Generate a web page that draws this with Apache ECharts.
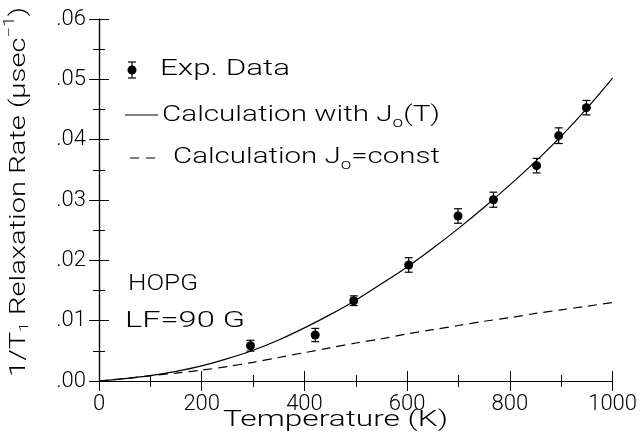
<!DOCTYPE html>
<html><head><meta charset="utf-8">
<script src="https://cdn.jsdelivr.net/npm/echarts@6/dist/echarts.min.js"></script>
<style>html,body{margin:0;padding:0;background:#fff}#c{width:640px;height:438px}</style>
</head><body><div id="c"></div><script>
// ---- data ----
const expTemps  = [295, 421, 496, 603, 699, 768, 852, 895, 949];
const expRates  = [0.00585, 0.00762, 0.01331, 0.01923, 0.02735, 0.03005, 0.03569, 0.04066, 0.0453];
const expErrors = [0.0009, 0.0011, 0.0008, 0.0012, 0.0012, 0.00125, 0.0012, 0.0013, 0.0012];
const calcTemps = [0,50,100,150,200,250,300,350,400,450,500,550,600,650,700,750,800,850,900,950,1000];
const calcJT    = [0,0.0004,0.0009,0.0016,0.0025,0.0037,0.0051,0.0068,0.0088,0.0110,0.0134,0.0161,0.0189,0.0220,0.0253,0.0288,0.0325,0.0364,0.0406,0.0452,0.0502];
const calcJconst= [0,0.0004,0.0009,0.0013,0.0018,0.0024,0.0031,0.0039,0.0047,0.0055,0.0063,0.0070,0.0078,0.0085,0.0092,0.0099,0.0105,0.0112,0.0118,0.0124,0.0130];
const xTickLabels = ['0','200','400','600','800','1000'];
const yTickLabels = ['.00','.01','.02','.03','.04','.05','.06'];

const FONT = 'Roboto, "Liberation Sans", sans-serif';
const WEIGHT = 300;
const ctx = document.createElement('canvas').getContext('2d');
function measure(t, size){ ctx.font = WEIGHT + ' ' + size + 'px ' + FONT; return ctx.measureText(t).width; }
function textGroup(parts, x, y, width, rotation){
  let acc = 0; const children = [];
  parts.forEach(p => {
    const size = p.size || 22;
    children.push({type:'text', x: acc, y: p.dy || 0,
      style:{text:p.t, font: WEIGHT + ' ' + size + 'px ' + FONT, fill:'#000', textAlign:'left', textVerticalAlign:'middle'}});
    acc += measure(p.t, size);
  });
  return {type:'group', x:x, y:y, rotation: rotation || 0, scaleX: width / acc, children: children};
}

const chart = echarts.init(document.getElementById('c'), null, {renderer:'canvas'});
const axisCommon = {
  type:'value', splitLine:{show:false},
  axisLine:{show:true, lineStyle:{color:'#000', width:1.2}},
  axisTick:{show:true, inside:true, length:10, lineStyle:{color:'#000', width:1}},
  minorTick:{show:true, splitNumber:2, length:6, lineStyle:{color:'#000', width:1}},
};
const lbl = {color:'#000', fontSize:22, fontFamily:FONT, fontWeight:WEIGHT};
chart.setOption({
  animation:false,
  grid:{left:99, right:25, top:19, bottom:57},
  xAxis:[
    Object.assign({}, axisCommon, {min:0, max:1000, interval:200, position:'bottom',
      axisLabel:Object.assign({margin:12, formatter:(v)=>xTickLabels[Math.round(v/200)]}, lbl)}),
    Object.assign({}, axisCommon, {min:0, max:1000, interval:200, position:'top', axisLabel:{show:false}})
  ],
  yAxis:[
    Object.assign({}, axisCommon, {min:0, max:0.06, interval:0.01, position:'left',
      axisLabel:Object.assign({margin:13, formatter:(v)=>yTickLabels[Math.round(v/0.01)]}, lbl)}),
    Object.assign({}, axisCommon, {min:0, max:0.06, interval:0.01, position:'right', axisLabel:{show:false}})
  ],
  series:[
    {type:'line', data: calcTemps.map((t,i)=>[t, calcJT[i]]), smooth:0.3, showSymbol:false,
      lineStyle:{color:'#000', width:1.2}, z:2},
    {type:'line', data: calcTemps.map((t,i)=>[t, calcJconst[i]]), smooth:0.3, showSymbol:false,
      lineStyle:{color:'#000', width:1.2, type:[9,6]}, z:2},
    {type:'custom', data: expTemps.map((t,i)=>[t, expRates[i], expErrors[i]]), z:3,
      encode:{x:0, y:1},
      renderItem:(params, api)=>{
        const x = api.value(0), y = api.value(1), e = api.value(2);
        const hi = api.coord([x, y+e]), lo = api.coord([x, y-e]);
        const w = 4, st = {stroke:'#000', lineWidth:1.2};
        return {type:'group', children:[
          {type:'line', shape:{x1:hi[0], y1:hi[1], x2:lo[0], y2:lo[1]}, style:st},
          {type:'line', shape:{x1:hi[0]-w, y1:hi[1], x2:hi[0]+w, y2:hi[1]}, style:st},
          {type:'line', shape:{x1:lo[0]-w, y1:lo[1], x2:lo[0]+w, y2:lo[1]}, style:st}
        ]};
      }},
    {type:'scatter', data: expTemps.map((t,i)=>[t, expRates[i]]), symbol:'circle', symbolSize:9,
      itemStyle:{color:'#000', opacity:1}, z:4}
  ],
  graphic:[
    {type:'circle', shape:{cx:132, cy:70, r:4.5}, style:{fill:'#000'}},
    {type:'line', shape:{x1:132, y1:62, x2:132, y2:78}, style:{stroke:'#000', lineWidth:1.2}},
    {type:'line', shape:{x1:128, y1:62, x2:136, y2:62}, style:{stroke:'#000', lineWidth:1.2}},
    {type:'line', shape:{x1:128, y1:78, x2:136, y2:78}, style:{stroke:'#000', lineWidth:1.2}},
    {type:'line', shape:{x1:125, y1:115, x2:158, y2:115}, style:{stroke:'#000', lineWidth:1.2}},
    {type:'line', shape:{x1:130, y1:158, x2:157, y2:158}, style:{stroke:'#000', lineWidth:1.2, lineDash:[9,7]}},
    textGroup([{t:'Exp. Data'}], 160, 69, 130),
    textGroup([{t:'Calculation with J'},{t:'o', size:14, dy:8},{t:'(T)'}], 162, 115, 278),
    textGroup([{t:'Calculation J'},{t:'o', size:14, dy:8},{t:'=const'}], 173, 157, 267),
    textGroup([{t:'HOPG'}], 128, 284, 70),
    textGroup([{t:'LF=90 G'}], 125, 321, 120),
    textGroup([{t:'Temperature (K)'}], 223, 420, 225),
    textGroup([{t:'1/T'},{t:'1', size:13, dy:6},{t:' Relaxation Rate ('},{t:'μ'},{t:'sec'},{t:'−1', size:14, dy:-9},{t:')'}], 19, 377, 370, Math.PI/2)
  ]
});
</script></body></html>
